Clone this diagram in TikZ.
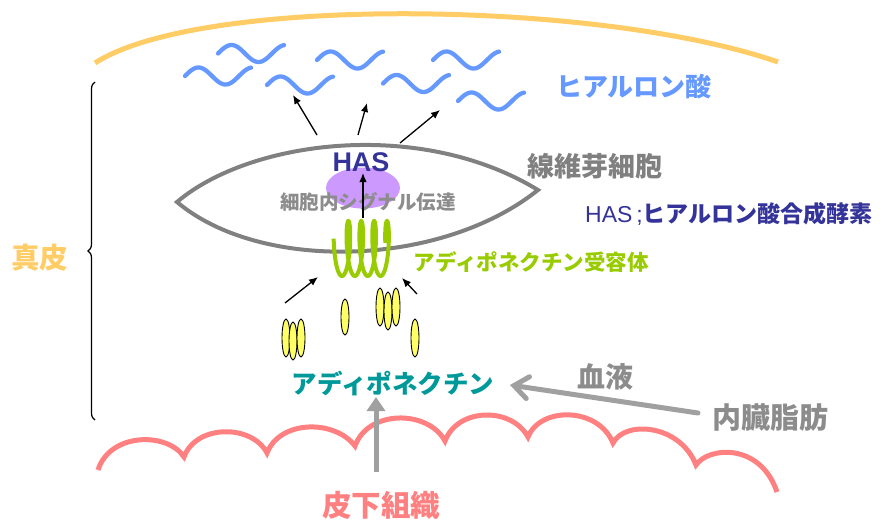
\documentclass[tikz,border=0pt]{standalone}
\usepackage{fontspec}
\setmainfont{Liberation Sans}
\newfontfamily\jp{Noto Sans CJK JP}
\usetikzlibrary{decorations.pathreplacing,arrows.meta,shapes.geometric}

\definecolor{hyablue}{HTML}{6699FF}
\definecolor{hasblue}{HTML}{333399}
\definecolor{cellgray}{HTML}{808080}
\definecolor{recgreen}{HTML}{99CC00}
\definecolor{aditeal}{HTML}{009999}
\definecolor{arrowgray}{HTML}{A0A0A0}
\definecolor{textgray}{HTML}{8C8C8C}
\definecolor{subpink}{HTML}{FF8080}
\definecolor{dermyellow}{HTML}{FFCC66}
\definecolor{haspurple}{HTML}{CC99FF}
\definecolor{adiyellow}{HTML}{FFFF66}

\begin{document}
\begin{tikzpicture}[x=1pt,y=-1pt,
  lab/.style={inner sep=0pt, font=\jp\bfseries\fontsize{#1}{#1}\selectfont},
  hyawave/.style={draw=hyablue, line width=4.3pt, line cap=round},
  blackarrow/.style={draw=black, line width=1.3pt, -{Latex[length=9pt,width=7.5pt]}},
  adipoellipse/.style={fill=adiyellow, draw=black, line width=0.9pt},
  hwave/.pic={\draw[hyawave] plot[domain=0:66,samples=60,smooth] ({\x},{-8.5*sin(\x*6.6667)});}
]
\useasboundingbox (0,0) rectangle (883,522);

% dermis upper boundary
\draw[dermyellow, line width=5pt] (95,63) .. controls (200,-5) and (600,0) .. (778,62);

% hyaluronic acid chains
\pic at (218,53.5) {hwave};
\pic at (185,76) {hwave};
\pic at (317,60) {hwave};
\pic at (267,85) {hwave};
\pic at (433,60) {hwave};
\pic at (383,83.5) {hwave};
\pic at (458,101) {hwave};

% fibroblast outline
\draw[cellgray, line width=4pt, line join=miter]
  (177,202) .. controls (250,140) and (420,118) .. (538,190)
  .. controls (440,268) and (260,272) .. cycle;

% HAS enzyme
\node[ellipse, fill=haspurple, minimum width=74pt, minimum height=41pt, inner sep=0pt] (hasblob) at (363,188) {};
\node[inner sep=0pt, text=hasblue, font=\bfseries\fontsize{27}{27}\selectfont] (has) at (361,162) {HAS};
\node[lab=19.5, text=textgray] (signal) at (368,202) {細胞内シグナル伝達};

% receptor coil
\draw[recgreen, line width=4pt] plot[domain=1.2:26.5,samples=260,smooth]
  ({335.5+2.05*\x-4.6*sin(\x r)},{248.5-27.5*cos(\x r)});

% signalling arrows
\coordinate (sigfrom) at (363,218);
\coordinate (sigto) at (363,173);
\draw[blackarrow] (sigfrom) -- (sigto);
\coordinate (outA0) at (317,135); \coordinate (outA1) at (293,95);
\coordinate (outB0) at (358,135); \coordinate (outB1) at (367,103);
\coordinate (outC0) at (400,143); \coordinate (outC1) at (440,110);
\draw[blackarrow] (outA0) -- (outA1);
\draw[blackarrow] (outB0) -- (outB1);
\draw[blackarrow] (outC0) -- (outC1);

% adiponectin molecules
\filldraw[adipoellipse] (286,338) ellipse [x radius=4, y radius=19];
\filldraw[adipoellipse] (293,341) ellipse [x radius=4, y radius=19];
\filldraw[adipoellipse] (301,338) ellipse [x radius=4, y radius=19];
\filldraw[adipoellipse] (345,317) ellipse [x radius=4, y radius=18];
\filldraw[adipoellipse] (380,307) ellipse [x radius=4, y radius=19];
\filldraw[adipoellipse] (388,311) ellipse [x radius=4, y radius=19];
\filldraw[adipoellipse] (396,307) ellipse [x radius=4, y radius=19];
\filldraw[adipoellipse] (415,338) ellipse [x radius=4, y radius=19];
\coordinate (bindA0) at (285,303); \coordinate (bindA1) at (318,277);
\coordinate (bindB0) at (417,294); \coordinate (bindB1) at (402,278);
\draw[blackarrow] (bindA0) -- (bindA1);
\draw[blackarrow] (bindB0) -- (bindB1);

% subcutaneous tissue boundary
\draw[subpink, line width=5pt, line join=miter]
  (98,470) .. controls (110,432) and (168,432) .. (184,457)
  .. controls (196,424) and (252,424) .. (267,453)
  .. controls (280,419.5) and (335,419.5) .. (355,446)
  .. controls (368,409.5) and (428,409.5) .. (445,441)
  .. controls (458,407) and (512,407) .. (528,437)
  .. controls (540,406.5) and (598,406.5) .. (613,443)
  .. controls (625,420) and (680,424) .. (696,465)
  .. controls (708,447) and (760,442) .. (777,492);

% labels
\node[lab=26, text=hyablue] (hyaluronic) at (634,87) {ヒアルロン酸};
\node[lab=27, text=cellgray] (fibro) at (595,166) {線維芽細胞};
\node[inner sep=0pt, text=hasblue, anchor=west] (hasdef) at (585,214)
  {\fontsize{23}{23}\selectfont HAS\,;\jp\bfseries\fontsize{23}{23}\selectfont ヒアルロン酸合成酵素};
\node[lab=21.5, text=recgreen] (reclabel) at (531,262) {アディポネクチン受容体};
\node[lab=25.5, text=aditeal] (adipo) at (393,383) {アディポネクチン};
\node[lab=28, text=textgray] (blood) at (605,377) {血液};
\node[lab=29, text=textgray] (visceral) at (770,418) {内臓脂肪};
\node[lab=29.5, text=subpink] (subcut) at (381,505) {皮下組織};
\node[lab=28.5, text=dermyellow] (dermis) at (40,258) {真皮};

% supply arrows
\coordinate (fatfrom) at (698,413);
\coordinate (fatto) at (510,385);
\draw[arrowgray, line width=5pt, line cap=round, -{Straight Barb[length=14pt,width=22pt,line cap=round]}] (fatfrom) -- (fatto);
\coordinate (subfrom) at (376,472);
\coordinate (subto) at (376,397);
\draw[arrowgray, line width=5pt, -{Triangle[length=14pt,width=18pt]}] (subfrom) -- (subto);

% dermis brace
\coordinate (bracelow) at (95,420);
\coordinate (bracehigh) at (95,82);
\draw[line width=1.2pt, decorate, decoration={brace, amplitude=7pt}] (bracelow) -- (bracehigh);
\end{tikzpicture}
\end{document}
